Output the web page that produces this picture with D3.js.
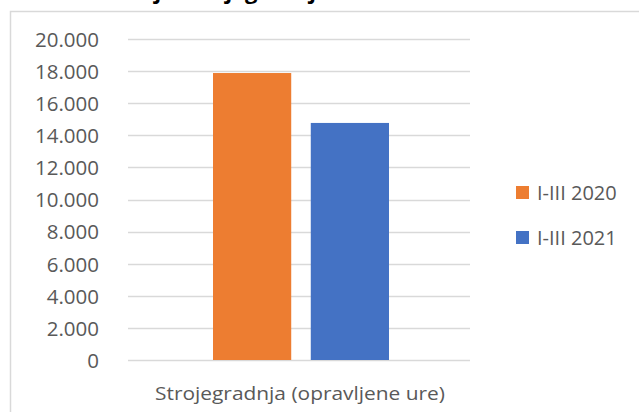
<!DOCTYPE html>
<html>
<head>
<meta charset="utf-8">
<script src="https://cdn.jsdelivr.net/npm/d3@7"></script>
<style>
  body { margin: 0; background: #fff; }
  svg { display: block; font-family: "Open Sans", "Noto Sans", sans-serif; }
  .tick text { fill: #595959; }
</style>
</head>
<body>
<svg class="chart-svg"></svg>
<script>
// chart data
var categories = ["Strojegradnja (opravljene ure)"];
var seriesNames = ["I-III 2020", "I-III 2021"];
var seriesValues = [17880, 14770];
var seriesColors = ["#ed7d31", "#4472c4"];
var yTicks = [0, 2000, 4000, 6000, 8000, 10000, 12000, 14000, 16000, 18000, 20000];
var titleText = "Proizvodnja Strojegradnja";

function drawChart() {
  var W = 639, H = 412;
  var svg = d3.select(".chart-svg").attr("width", W).attr("height", H);

  // chart frame (cut by the window on right and bottom)
  svg.append("rect")
    .attr("x", 10.5).attr("y", 11.5)
    .attr("width", 700).attr("height", 500)
    .attr("fill", "#fff")
    .attr("stroke", "#d9d9d9")
    .attr("stroke-width", 1.5);

  // title, mostly above the visible area (cut as in the original)
  svg.append("text")
    .attr("x", 45).attr("y", -1)
    .attr("font-size", 22)
    .attr("font-weight", "bold")
    .attr("fill", "#000")
    .text(titleText);

  var x0 = d3.scaleBand().domain(categories).range([128, 470]);
  var x1 = d3.scaleBand().domain(seriesNames)
    .range([85, 261]).paddingInner(0.2);
  var y = d3.scaleLinear().domain([0, 20000]).range([360, 39]);

  // gridlines
  svg.append("g").selectAll("line")
    .data(yTicks)
    .enter()
    .append("line")
    .attr("x1", 128).attr("x2", 470)
    .attr("y1", function(d) { return Math.round(y(d)) + 0.5; })
    .attr("y2", function(d) { return Math.round(y(d)) + 0.5; })
    .attr("stroke", "#d9d9d9")
    .attr("stroke-width", 1.3);

  // y axis labels
  var yAxis = d3.axisLeft(y)
    .tickValues(yTicks)
    .tickSize(0)
    .tickPadding(0)
    .tickFormat(function(d) { return d3.format(",")(d).replace(/,/g, "."); });
  var ag = svg.append("g")
    .attr("transform", "translate(99,0)")
    .call(yAxis);
  ag.select(".domain").remove();
  ag.selectAll("text")
    .attr("font-size", 20.5)
    .attr("font-family", "'Open Sans', sans-serif")
    .attr("dy", "0.36em");

  // bars
  svg.append("g").selectAll("rect")
    .data(seriesValues)
    .enter()
    .append("rect")
    .attr("x", function(d, i) { return x0(categories[0]) + x1(seriesNames[i]); })
    .attr("y", function(d) { return y(d); })
    .attr("width", x1.bandwidth())
    .attr("height", function(d) { return y(0) - y(d); })
    .attr("fill", function(d, i) { return seriesColors[i]; });

  // category label
  svg.append("text")
    .attr("x", 155)
    .attr("y", 400)
    .attr("font-size", 19)
    .attr("fill", "#595959")
    .attr("textLength", 290)
    .attr("lengthAdjust", "spacingAndGlyphs")
    .text(categories[0]);

  // legend
  var lg = svg.append("g").selectAll("g")
    .data(seriesNames)
    .enter()
    .append("g")
    .attr("transform", function(d, i) { return "translate(516," + (186 + i * 45) + ")"; });
  lg.append("rect")
    .attr("width", 13).attr("height", 13)
    .attr("fill", function(d, i) { return seriesColors[i]; });
  lg.append("text")
    .attr("x", 21).attr("y", 14)
    .attr("font-size", 20)
    .attr("fill", "#595959")
    .text(function(d) { return d; });
}

drawChart();
</script>
</body>
</html>
